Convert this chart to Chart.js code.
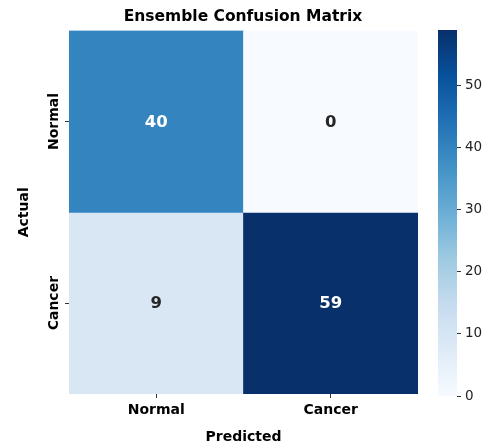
<!DOCTYPE html>
<html>
<head>
<meta charset="utf-8">
<script src="https://cdn.jsdelivr.net/npm/chart.js@4"></script>
<style>
  html, body { margin: 0; padding: 0; background: #ffffff; }
  #wrap { position: relative; width: 486px; height: 447px; }
  #main { position: absolute; left: 0; top: 0; }
  #cbar { position: absolute; left: 438px; top: 0; }
</style>
</head>
<body>
<div id="wrap">
  <canvas id="main" width="486" height="447"></canvas>
  <canvas id="cbar" width="48" height="447"></canvas>
</div>
<script>
// ---- data ----
const predictedLabels = ['Normal', 'Cancer'];
const actualLabels = ['Normal', 'Cancer'];
const rowNormal = [40, 0];   // actual Normal
const rowCancer = [9, 59];   // actual Cancer
const colorbarTicks = [0, 10, 20, 30, 40, 50];

const rows = [rowNormal, rowCancer];
const vmin = 0;
const vmax = Math.max(...rowNormal, ...rowCancer);

// matplotlib "Blues" anchors
const blues = ['#f7fbff','#deebf7','#c6dbef','#9ecae1','#6baed6','#4292c6','#2171b5','#08519c','#08306b'];
function hexToRgb(h) { return [parseInt(h.slice(1,3),16), parseInt(h.slice(3,5),16), parseInt(h.slice(5,7),16)]; }
const bluesRgb = blues.map(hexToRgb);
function cmap(v) {
  let t = (v - vmin) / (vmax - vmin);
  t = Math.max(0, Math.min(1, t));
  const p = t * (bluesRgb.length - 1);
  const i = Math.min(Math.floor(p), bluesRgb.length - 2);
  const f = p - i;
  const a = bluesRgb[i], b = bluesRgb[i + 1];
  return [0,1,2].map(k => Math.round(a[k] + (b[k] - a[k]) * f));
}
function rgbStr(c) { return 'rgb(' + c[0] + ',' + c[1] + ',' + c[2] + ')'; }
function luminance(c) {
  const l = c.map(x => { x /= 255; return x <= 0.03928 ? x / 12.92 : Math.pow((x + 0.055) / 1.055, 2.4); });
  return 0.2126 * l[0] + 0.7152 * l[1] + 0.0722 * l[2];
}

const FONT = "'DejaVu Sans', sans-serif";
const nRows = rows.length;

const datasets = rows.map((row, r) => ({
  label: actualLabels[r],
  data: row.map(() => [nRows - r - 1, nRows - r]),
  counts: row,
  backgroundColor: row.map(v => rgbStr(cmap(v))),
  borderWidth: 0,
  barPercentage: 1,
  categoryPercentage: 1
}));

const annotatePlugin = {
  id: 'annotate',
  afterDatasetsDraw(chart) {
    const ctx = chart.ctx;
    ctx.save();
    ctx.font = "bold 16.5px " + FONT;
    ctx.textAlign = 'center';
    ctx.textBaseline = 'middle';
    chart.data.datasets.forEach((ds, di) => {
      const meta = chart.getDatasetMeta(di);
      meta.data.forEach((bar, i) => {
        const v = ds.counts[i];
        const c = cmap(v);
        ctx.fillStyle = luminance(c) > 0.408 ? '#262626' : '#ffffff';
        const cy = (bar.y + bar.base) / 2;
        ctx.fillText(String(v), bar.x, cy + 1);
      });
    });
    ctx.restore();
  }
};

const yLabelPlugin = {
  id: 'ylabels',
  afterDraw(chart) {
    const ctx = chart.ctx;
    const ys = chart.scales.y;
    ctx.save();
    ctx.font = "bold 14px " + FONT;
    ctx.fillStyle = '#000000';
    ctx.textAlign = 'center';
    ctx.textBaseline = 'alphabetic';
    actualLabels.forEach((lab, r) => {
      const py = ys.getPixelForValue(nRows - r - 0.5);
      ctx.save();
      ctx.translate(58, py);
      ctx.rotate(-Math.PI / 2);
      ctx.fillText(lab, 0, 0);
      ctx.restore();
    });
    ctx.restore();
  }
};

new Chart(document.getElementById('main'), {
  type: 'bar',
  data: { labels: predictedLabels, datasets: datasets },
  options: {
    responsive: false,
    animation: false,
    layout: { padding: 0 },
    plugins: {
      legend: { display: false },
      tooltip: { enabled: false },
      title: {
        display: true,
        text: 'Ensemble Confusion Matrix',
        color: '#000000',
        font: { family: FONT, size: 15.5, weight: 'bold' },
        padding: { top: 8, bottom: 4 }
      }
    },
    scales: {
      x: {
        stacked: true,
        offset: true,
        grid: { display: true, offset: false, drawOnChartArea: false, drawTicks: true, tickLength: 4, color: '#333333' },
        border: { display: false },
        ticks: { color: '#000000', font: { family: FONT, size: 14, weight: 'bold' }, padding: 4, maxRotation: 0 },
        title: { display: true, text: 'Predicted', color: '#000000', font: { family: FONT, size: 14, weight: 'bold' }, padding: { top: 0, bottom: 1.5 } },
        afterFit(s) { s.height = 53; }
      },
      y: {
        stacked: false,
        min: 0,
        max: nRows,
        afterBuildTicks(s) { s.ticks = actualLabels.map((_, r) => ({ value: nRows - r - 0.5 })); },
        grid: { display: true, drawOnChartArea: false, drawTicks: true, tickLength: 4, color: '#333333' },
        border: { display: false },
        ticks: { callback: () => '', padding: 0 },
        title: { display: true, text: 'Actual', color: '#000000', font: { family: FONT, size: 14, weight: 'bold' }, padding: { top: 15.5, bottom: 0 } },
        afterFit(s) { s.width = 69; }
      },
      space: {
        type: 'linear',
        position: 'right',
        display: true,
        grid: { display: false },
        border: { display: false },
        ticks: { display: false },
        afterFit(s) { s.width = 68; }
      }
    }
  },
  plugins: [annotatePlugin, yLabelPlugin]
});

// ---- colorbar ----
new Chart(document.getElementById('cbar'), {
  type: 'bar',
  data: {
    labels: ['scale'],
    datasets: [{
      data: [[vmin, vmax]],
      borderWidth: 0,
      barPercentage: 1,
      categoryPercentage: 1,
      backgroundColor(context) {
        const chart = context.chart;
        const ys = chart.scales.y;
        if (!chart.chartArea || !ys) return blues[4];
        const y0 = ys.getPixelForValue(vmin), y1 = ys.getPixelForValue(vmax);
        const g = chart.ctx.createLinearGradient(0, y0, 0, y1);
        blues.forEach((c, i) => g.addColorStop(i / (blues.length - 1), c));
        return g;
      }
    }]
  },
  options: {
    responsive: false,
    animation: false,
    layout: { padding: { left: 0, right: 0, top: 30, bottom: 51 } },
    plugins: { legend: { display: false }, tooltip: { enabled: false }, title: { display: false } },
    scales: {
      x: { display: false, offset: true },
      y: {
        position: 'right',
        min: vmin,
        max: vmax,
        afterBuildTicks(s) { s.ticks = colorbarTicks.map(v => ({ value: v })); },
        grid: { display: true, drawOnChartArea: false, drawTicks: true, tickLength: 4, color: '#333333' },
        border: { display: false },
        ticks: { color: '#222222', font: { family: FONT, size: 13.5 }, padding: 4 },
        afterFit(s) { s.width = 29; }
      }
    }
  }
});
</script>
</body>
</html>
